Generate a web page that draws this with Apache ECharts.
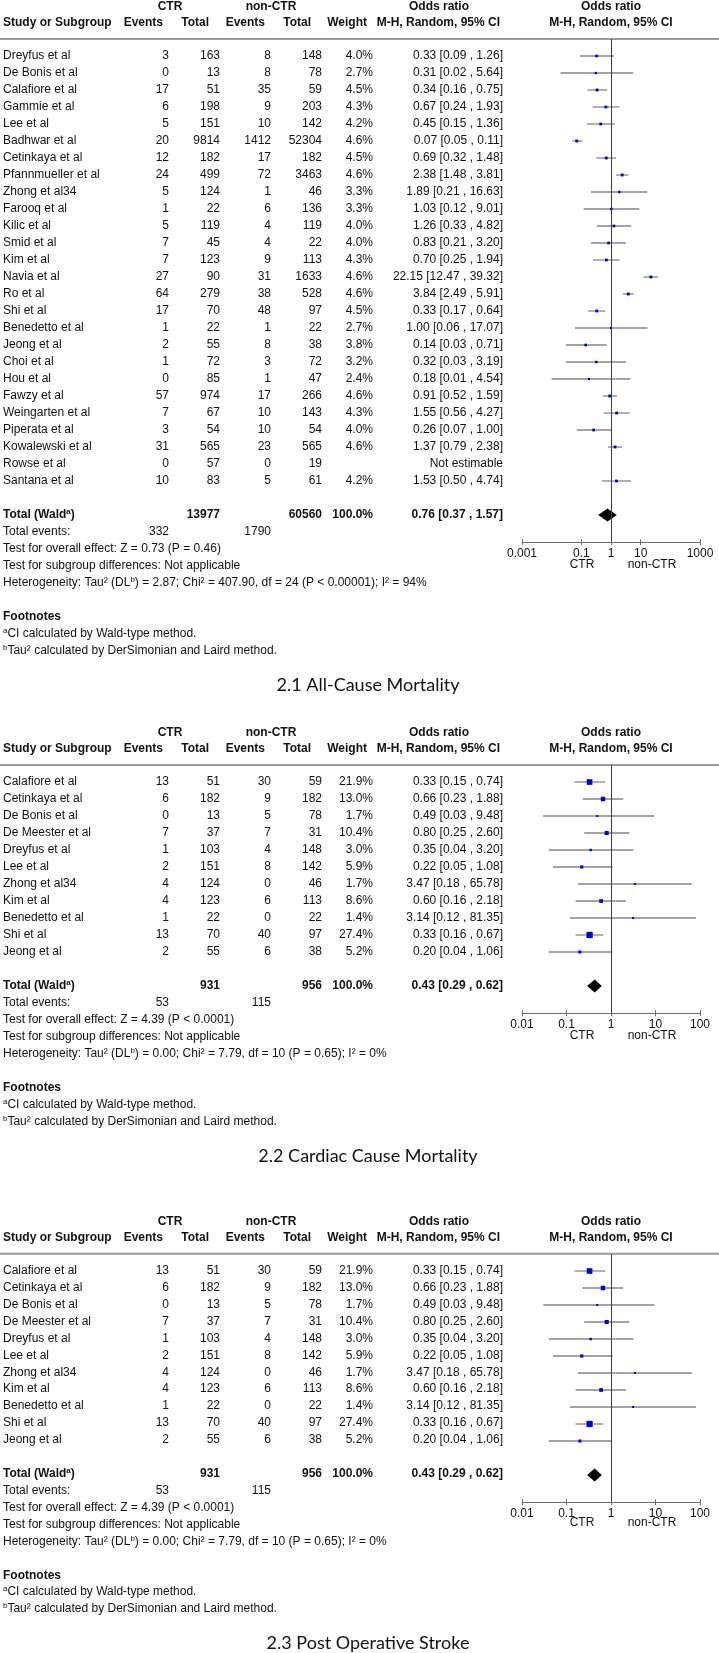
<!DOCTYPE html>
<html><head><meta charset="utf-8">
<script src="https://cdn.jsdelivr.net/npm/echarts@6.0.0/dist/echarts.min.js"></script>
<style>html,body{margin:0;padding:0;background:#fff}#c{width:719px;height:1653px}</style>
</head><body><div id="c"></div><script>
// ---------- 2.1 All-Cause Mortality ----------
const studies1 = ['Dreyfus et al','De Bonis et al','Calafiore et al','Gammie et al','Lee et al','Badhwar et al','Cetinkaya et al','Pfannmueller et al','Zhong et al34','Farooq et al','Kilic et al','Smid et al','Kim et al','Navia et al','Ro et al','Shi et al','Benedetto et al','Jeong et al','Choi et al','Hou et al','Fawzy et al','Weingarten et al','Piperata et al','Kowalewski et al','Rowse et al','Santana et al'];
const ctrEvents1 = [3,0,17,6,5,20,12,24,5,1,5,7,7,27,64,17,1,2,1,0,57,7,3,31,0,10];
const ctrTotal1  = [163,13,51,198,151,9814,182,499,124,22,119,45,123,90,279,70,22,55,72,85,974,67,54,565,57,83];
const nonEvents1 = [8,8,35,9,10,1412,17,72,1,6,4,4,9,31,38,48,1,8,3,1,17,10,10,23,0,5];
const nonTotal1  = [148,78,59,203,142,52304,182,3463,46,136,119,22,113,1633,528,97,22,38,72,47,266,143,54,565,19,61];
const weight1 = [4.0,2.7,4.5,4.3,4.2,4.6,4.5,4.6,3.3,3.3,4.0,4.0,4.3,4.6,4.6,4.5,2.7,3.8,3.2,2.4,4.6,4.3,4.0,4.6,null,4.2];
const or1 = [0.33,0.31,0.34,0.67,0.45,0.07,0.69,2.38,1.89,1.03,1.26,0.83,0.70,22.15,3.84,0.33,1.00,0.14,0.32,0.18,0.91,1.55,0.26,1.37,null,1.53];
const lo1 = [0.09,0.02,0.16,0.24,0.15,0.05,0.32,1.48,0.21,0.12,0.33,0.21,0.25,12.47,2.49,0.17,0.06,0.03,0.03,0.01,0.52,0.56,0.07,0.79,null,0.50];
const hi1 = [1.26,5.64,0.75,1.93,1.36,0.11,1.48,3.81,16.63,9.01,4.82,3.20,1.94,39.32,5.91,0.64,17.07,0.71,3.19,4.54,1.59,4.27,1.00,2.38,null,4.74];
const totalN1 = [13977, 60560];
const totalEvents1 = [332, 1790];
const pooled1 = [0.76, 0.37, 1.57];
const stats1 = ['Test for overall effect: Z = 0.73 (P = 0.46)','Test for subgroup differences: Not applicable','Heterogeneity: Tau² (DL{sup|b}) = 2.87; Chi² = 407.90, df = 24 (P < 0.00001); I² = 94%'];
const ticks1 = [0.001, 0.1, 1, 10, 1000];
const tickLabels1 = ['0.001','0.1','1','10','1000'];
const title1 = '2.1 All-Cause Mortality';

// ---------- 2.2 Cardiac Cause Mortality ----------
const studies2 = ['Calafiore et al','Cetinkaya et al','De Bonis et al','De Meester et al','Dreyfus et al','Lee et al','Zhong et al34','Kim et al','Benedetto et al','Shi et al','Jeong et al'];
const ctrEvents2 = [13,6,0,7,1,2,4,4,1,13,2];
const ctrTotal2  = [51,182,13,37,103,151,124,123,22,70,55];
const nonEvents2 = [30,9,5,7,4,8,0,6,0,40,6];
const nonTotal2  = [59,182,78,31,148,142,46,113,22,97,38];
const weight2 = [21.9,13.0,1.7,10.4,3.0,5.9,1.7,8.6,1.4,27.4,5.2];
const or2 = [0.33,0.66,0.49,0.80,0.35,0.22,3.47,0.60,3.14,0.33,0.20];
const lo2 = [0.15,0.23,0.03,0.25,0.04,0.05,0.18,0.16,0.12,0.16,0.04];
const hi2 = [0.74,1.88,9.48,2.60,3.20,1.08,65.78,2.18,81.35,0.67,1.06];
const totalN2 = [931, 956];
const totalEvents2 = [53, 115];
const pooled2 = [0.43, 0.29, 0.62];
const stats2 = ['Test for overall effect: Z = 4.39 (P < 0.0001)','Test for subgroup differences: Not applicable','Heterogeneity: Tau² (DL{sup|b}) = 0.00; Chi² = 7.79, df = 10 (P = 0.65); I² = 0%'];
const ticks2 = [0.01, 0.1, 1, 10, 100];
const tickLabels2 = ['0.01','0.1','1','10','100'];
const title2 = '2.2 Cardiac Cause Mortality';

// ---------- 2.3 Post Operative Stroke (same values as shown) ----------
const studies3 = ['Calafiore et al','Cetinkaya et al','De Bonis et al','De Meester et al','Dreyfus et al','Lee et al','Zhong et al34','Kim et al','Benedetto et al','Shi et al','Jeong et al'];
const ctrEvents3 = [13,6,0,7,1,2,4,4,1,13,2];
const ctrTotal3  = [51,182,13,37,103,151,124,123,22,70,55];
const nonEvents3 = [30,9,5,7,4,8,0,6,0,40,6];
const nonTotal3  = [59,182,78,31,148,142,46,113,22,97,38];
const weight3 = [21.9,13.0,1.7,10.4,3.0,5.9,1.7,8.6,1.4,27.4,5.2];
const or3 = [0.33,0.66,0.49,0.80,0.35,0.22,3.47,0.60,3.14,0.33,0.20];
const lo3 = [0.15,0.23,0.03,0.25,0.04,0.05,0.18,0.16,0.12,0.16,0.04];
const hi3 = [0.74,1.88,9.48,2.60,3.20,1.08,65.78,2.18,81.35,0.67,1.06];
const totalN3 = [931, 956];
const totalEvents3 = [53, 115];
const pooled3 = [0.43, 0.29, 0.62];
const stats3 = ['Test for overall effect: Z = 4.39 (P < 0.0001)','Test for subgroup differences: Not applicable','Heterogeneity: Tau² (DL{sup|b}) = 0.00; Chi² = 7.79, df = 10 (P = 0.65); I² = 0%'];
const ticks3 = [0.01, 0.1, 1, 10, 100];
const tickLabels3 = ['0.01','0.1','1','10','100'];
const title3 = '2.3 Post Operative Stroke';

const headerTop = ['CTR','non-CTR','Odds ratio','Odds ratio'];
const headerSub = ['Study or Subgroup','Events','Total','Events','Total','Weight','M-H, Random, 95% CI','M-H, Random, 95% CI'];
const footnotes = ['Footnotes','{sup|a}CI calculated by Wald-type method.','{sup|b}Tau² calculated by DerSimonian and Laird method.'];
const sideLabels = ['CTR','non-CTR'];

// ---------- layout ----------
const FONT = '"Liberation Sans", Arial, Helvetica, sans-serif';
const ROW = 17;
const grids = [], xAxes = [], yAxes = [], series = [];
const f2 = v => v.toFixed(2);
const orText = (o,l,h) => o === null ? 'Not estimable' : f2(o) + ' [' + f2(l) + ' , ' + f2(h) + ']';
const AXC = '#6e6e6e';

function addPanel(P) {
  const N = P.studies.length;
  const rMin = -3.3, rMax = N + 11.6;
  // ---- table grid ----
  const gi = grids.length, xi = xAxes.length, yi = yAxes.length;
  grids.push({left: 0, width: 719, top: P.y0 + ROW * rMin, height: ROW * (rMax - rMin)});
  xAxes.push({gridIndex: gi, type: 'value', min: 0, max: 719, show: false});
  yAxes.push({gridIndex: gi, type: 'value', min: rMin, max: rMax, inverse: true, show: false});
  const cells = [];
  const C = (x, r, text, align, bold, kind) => cells.push({x, r, text: String(text), align, bold: !!bold, kind: kind || 'text'});
  C(170, -2.9, headerTop[0], 'center', 1);
  C(271, -2.9, headerTop[1], 'center', 1);
  C(439, -2.9, headerTop[2], 'center', 1);
  C(611, -2.9, headerTop[3], 'center', 1);
  C(3, -1.95, headerSub[0], 'left', 1);
  C(163, -1.95, headerSub[1], 'right', 1);
  C(209, -1.95, headerSub[2], 'right', 1);
  C(265, -1.95, headerSub[3], 'right', 1);
  C(311, -1.95, headerSub[4], 'right', 1);
  C(367, -1.95, headerSub[5], 'right', 1);
  C(500, -1.95, headerSub[6], 'right', 1);
  C(611, -1.95, headerSub[7], 'center', 1);
  cells.push({x: 0, x2: 719, r: -1, kind: 'rule'});
  for (let i = 0; i < N; i++) {
    C(3, i, P.studies[i], 'left');
    C(169, i, P.ce[i], 'right');
    C(220, i, P.ct[i], 'right');
    C(271, i, P.ne[i], 'right');
    C(322, i, P.nt[i], 'right');
    if (P.w[i] !== null) C(373, i, P.w[i].toFixed(1) + '%', 'right');
    C(503, i, orText(P.or[i], P.lo[i], P.hi[i]), 'right');
  }
  const t = N + 1;
  C(3, t, 'Total (Wald{sup|a})', 'left', 1);
  C(220, t, P.totalN[0], 'right', 1);
  C(322, t, P.totalN[1], 'right', 1);
  C(373, t, '100.0%', 'right', 1);
  C(503, t, orText(P.pooled[0], P.pooled[1], P.pooled[2]), 'right', 1);
  C(3, t + 1, 'Total events:', 'left');
  C(169, t + 1, P.totalEvents[0], 'right');
  C(271, t + 1, P.totalEvents[1], 'right');
  P.stats.forEach((s, k) => C(3, t + 2 + k, s, 'left'));
  C(3, t + 6, footnotes[0], 'left', 1);
  C(3, t + 7, footnotes[1], 'left');
  C(3, t + 8, footnotes[2], 'left');
  C(582, t + 2.9, sideLabels[0], 'center');
  C(652, t + 2.9, sideLabels[1], 'center');
  C(368, t + 10, P.title, 'center', 0, 'title');

  series.push({
    type: 'custom', xAxisIndex: xi, yAxisIndex: yi, silent: true, animation: false,
    data: cells.map(c => [c.x, c.r]),
    renderItem: (params, api) => {
      const c = cells[params.dataIndex];
      const p = api.coord([c.x, c.r]);
      if (c.kind === 'rule') {
        const p2 = api.coord([c.x2, c.r]);
        return {type: 'line', shape: {x1: p[0], y1: p[1], x2: p2[0], y2: p2[1]}, style: {stroke: '#9b9b9b', lineWidth: 2}};
      }
      if (c.kind === 'title') {
        return {type: 'text', x: p[0], y: p[1], style: {text: c.text, align: 'center', verticalAlign: 'middle', fill: '#111', fontSize: 18, fontFamily: 'Lato, "Open Sans", sans-serif'}};
      }
      const fw = c.bold ? 'bold' : 'normal';
      return {type: 'text', x: p[0], y: p[1], style: {
        text: c.text, align: c.align, verticalAlign: 'middle', fill: '#111',
        fontSize: 12, fontFamily: FONT, fontWeight: fw, lineHeight: 14,
        rich: {sup: {fontSize: 8, fontFamily: FONT, fontWeight: fw, fill: '#111', verticalAlign: 'top', lineHeight: 8}}
      }};
    }
  });

  // ---- forest grid ----
  const yMax = N + 2.6;
  const fTop = P.y0 - ROW, fH = ROW * (yMax + 1);
  const fg = grids.length, fx = xAxes.length, fy = yAxes.length;
  grids.push({left: 522, width: 178, top: fTop, height: fH});
  const near = v => { let b = 0; for (let k = 1; k < P.ticks.length; k++) if (Math.abs(Math.log10(v) - Math.log10(P.ticks[k])) < Math.abs(Math.log10(v) - Math.log10(P.ticks[b]))) b = k; return P.tickLabels[b]; };
  xAxes.push({gridIndex: fg, type: 'log', logBase: 10, min: P.min, max: P.max, position: 'bottom',
    axisLine: {show: true, onZero: false, lineStyle: {color: AXC, width: 1}},
    axisTick: {show: true, length: 3, customValues: P.ticks, lineStyle: {color: AXC}},
    axisLabel: {show: true, customValues: P.ticks, formatter: near, margin: 5, color: '#111', fontSize: 12, fontFamily: FONT},
    splitLine: {show: false}});
  yAxes.push({gridIndex: fg, type: 'value', min: -1, max: yMax, inverse: true, show: false});
  // helper grid: upward half of the tick marks, sharing the same axis line position
  const hg = grids.length;
  grids.push({left: 522, width: 178, top: fTop + fH - 3, height: 3});
  xAxes.push({gridIndex: hg, type: 'log', logBase: 10, min: P.min, max: P.max, position: 'bottom',
    axisLine: {show: false, onZero: false},
    axisTick: {show: true, inside: true, length: 3, customValues: P.ticks, lineStyle: {color: AXC}},
    axisLabel: {show: false}, splitLine: {show: false}});
  yAxes.push({gridIndex: hg, type: 'value', min: 0, max: 1, show: false});

  const pts = [];
  for (let i = 0; i < N; i++) if (P.or[i] !== null) pts.push([P.or[i], P.lo[i], P.hi[i], i, P.w[i]]);
  series.push({
    type: 'custom', xAxisIndex: fx, yAxisIndex: fy, silent: true, animation: false,
    data: pts, encode: {x: [0, 1, 2], y: 3},
    renderItem: (params, api) => {
      const o = api.value(0), l = api.value(1), h = api.value(2), r = api.value(3), w = api.value(4);
      const pc = api.coord([o, r]), pl = api.coord([l, r]), ph = api.coord([h, r]);
      const s = Math.max(2, 1.1 * Math.sqrt(w) + 0.5);
      return {type: 'group', children: [
        {type: 'line', shape: {x1: pl[0], y1: pl[1], x2: ph[0], y2: ph[1]}, style: {stroke: '#858585', lineWidth: 1.3}},
        {type: 'rect', shape: {x: pc[0] - s / 2, y: pc[1] - s / 2, width: s, height: s}, style: {fill: '#0000c8'}}
      ]};
    },
    markLine: {silent: true, symbol: ['none', 'none'], label: {show: false}, animation: false,
      lineStyle: {color: '#3c3c3c', width: 1, type: 'solid'}, data: [{xAxis: 1}]}
  });
  series.push({
    type: 'custom', xAxisIndex: fx, yAxisIndex: fy, silent: true, animation: false,
    data: [[P.pooled[0], P.pooled[1], P.pooled[2], t]], encode: {x: [0, 1, 2], y: 3},
    renderItem: (params, api) => {
      const r = api.value(3);
      const pc = api.coord([api.value(0), r]), pl = api.coord([api.value(1), r]), ph = api.coord([api.value(2), r]);
      return {type: 'polygon', shape: {points: [[pl[0], pc[1]], [pc[0], pc[1] - 6.5], [ph[0], pc[1]], [pc[0], pc[1] + 6.5]]}, style: {fill: '#000'}};
    }
  });
}

addPanel({y0: 56, studies: studies1, ce: ctrEvents1, ct: ctrTotal1, ne: nonEvents1, nt: nonTotal1, w: weight1, or: or1, lo: lo1, hi: hi1,
  totalN: totalN1, totalEvents: totalEvents1, pooled: pooled1, stats: stats1, ticks: ticks1, tickLabels: tickLabels1, min: 0.001, max: 1000, title: title1});
addPanel({y0: 782, studies: studies2, ce: ctrEvents2, ct: ctrTotal2, ne: nonEvents2, nt: nonTotal2, w: weight2, or: or2, lo: lo2, hi: hi2,
  totalN: totalN2, totalEvents: totalEvents2, pooled: pooled2, stats: stats2, ticks: ticks2, tickLabels: tickLabels2, min: 0.01, max: 100, title: title2});
addPanel({y0: 1271, studies: studies3, ce: ctrEvents3, ct: ctrTotal3, ne: nonEvents3, nt: nonTotal3, w: weight3, or: or3, lo: lo3, hi: hi3,
  totalN: totalN3, totalEvents: totalEvents3, pooled: pooled3, stats: stats3, ticks: ticks3, tickLabels: tickLabels3, min: 0.01, max: 100, title: title3});

const chart = echarts.init(document.getElementById('c'), null, {renderer: 'canvas', width: 719, height: 1653});
chart.setOption({animation: false, backgroundColor: '#fff', grid: grids, xAxis: xAxes, yAxis: yAxes, series: series});
</script></body></html>
